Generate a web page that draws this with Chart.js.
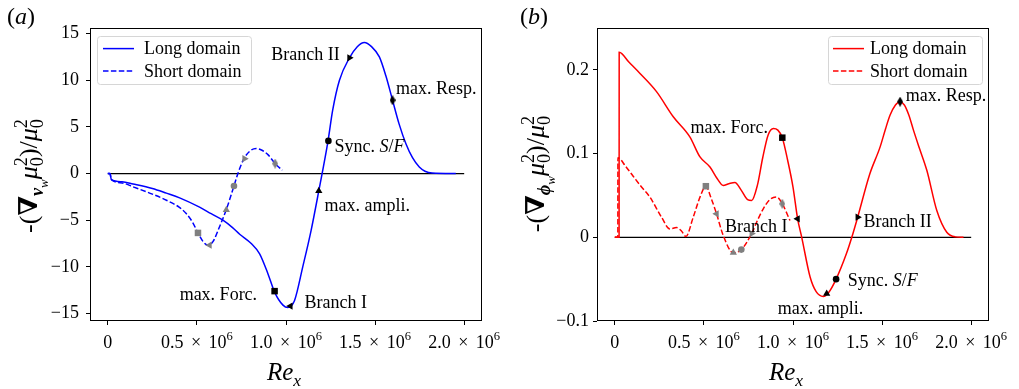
<!DOCTYPE html>
<html>
<head>
<meta charset="utf-8">
<script src="https://cdn.jsdelivr.net/npm/chart.js@4.4.1/dist/chart.umd.min.js"></script>
<style>
  body { margin: 0; background: #fff; }
  #wrap { position: relative; width: 1019px; height: 389px; overflow: hidden; }
  canvas { position: absolute; top: 0; }
  #chartA { left: 0; }
  #chartB { left: 500px; }
</style>
</head>
<body>
<div id="wrap">
  <canvas id="chartA" width="510" height="389"></canvas>
  <canvas id="chartB" width="519" height="389"></canvas>
</div>
<script>
// Re_x is given in millions (x 10^6) everywhere below

// (a) velocity-gradient sensitivity
const reLongA = [0, 0.012, 0.02, 0.08, 0.142, 0.25, 0.329, 0.403, 0.515, 0.58, 0.646, 0.70, 0.74, 0.805, 0.852, 0.898, 0.936, 0.983, 1.01, 1.048, 1.094, 1.141, 1.184, 1.235, 1.262, 1.30, 1.356, 1.40, 1.44, 1.48, 1.524, 1.56, 1.598, 1.635, 1.673, 1.71, 1.748, 1.78, 1.82, 1.953];
const gradLongA = [0, 0, -0.65, -0.88, -1.12, -1.6, -2.1, -2.6, -3.6, -4.3, -5.0, -5.8, -6.5, -7.5, -8.6, -10.7, -12.7, -14.1, -14.36, -13.6, -10.0, -6.08, -1.86, 3.4, 6.8, 10.0, 12.4, 13.6, 14.05, 13.6, 12.5, 10.5, 7.86, 5.3, 3.2, 1.7, 0.7, 0.25, 0.05, 0];
const reShortA = [0, 0.012, 0.02, 0.08, 0.142, 0.25, 0.329, 0.40, 0.44, 0.475, 0.506, 0.535, 0.562, 0.59, 0.627, 0.665, 0.708, 0.73, 0.764, 0.80, 0.833, 0.865, 0.90, 0.939, 0.979];
const gradShortA = [0, 0, -0.65, -1.0, -1.43, -2.2, -2.86, -3.6, -4.29, -5.2, -6.36, -7.3, -7.68, -7.3, -5.7, -3.86, -1.33, 0, 1.6, 2.45, 2.68, 2.5, 2.0, 1.07, 0.36];

// (b) phase-gradient sensitivity
const reLongB = [0, 0.024, 0.0245, 0.08, 0.14, 0.234, 0.328, 0.421, 0.478, 0.534, 0.575, 0.608, 0.64, 0.674, 0.71, 0.745, 0.768, 0.80, 0.83, 0.86, 0.89, 0.915, 0.94, 0.97, 1.0, 1.026, 1.049, 1.096, 1.13, 1.17, 1.20, 1.242, 1.30, 1.33, 1.363, 1.43, 1.489, 1.52, 1.545, 1.575, 1.601, 1.625, 1.65, 1.676, 1.71, 1.751, 1.807, 1.863, 1.91, 1.957];
const gradLongB = [0, 0, 0.221, 0.209, 0.196, 0.174, 0.144, 0.120, 0.096, 0.084, 0.070, 0.062, 0.064, 0.0655, 0.056, 0.045, 0.044, 0.062, 0.095, 0.122, 0.130, 0.128, 0.119, 0.092, 0.060, 0.022, 0, -0.0475, -0.065, -0.0707, -0.066, -0.05, -0.0195, 0, 0.024, 0.075, 0.108, 0.130, 0.146, 0.158, 0.162, 0.158, 0.146, 0.128, 0.106, 0.080, 0.032, 0.006, 0.0005, 0];
const reShortB = [0, 0.017, 0.0175, 0.06, 0.103, 0.15, 0.197, 0.262, 0.309, 0.346, 0.374, 0.399, 0.44, 0.478, 0.511, 0.54, 0.571, 0.608, 0.665, 0.71, 0.768, 0.80, 0.833, 0.87, 0.908, 0.94, 0.983];
const gradShortB = [0, 0, 0.095, 0.085, 0.073, 0.060, 0.048, 0.024, 0.010, 0.0116, 0.0076, 0.001, 0.024, 0.048, 0.061, 0.047, 0.028, 0.0024, -0.0185, -0.0147, 0.0044, 0.020, 0.034, 0.045, 0.048, 0.040, 0.020];

// special points: max. Forc., Branch I, max. ampli., Sync. S/F, Branch II, max. Resp.
const markReLongA = [0.936, 1.025, 1.184, 1.238, 1.356, 1.598];
const markValLongA = [-12.6, -14.2, -1.86, 3.5, 12.4, 7.86];
const markReShortA = [0.506, 0.571, 0.665, 0.708, 0.767, 0.939];
const markValShortA = [-6.36, -7.68, -3.9, -1.33, 1.6, 1.07];
const markReLongB = [0.94, 1.026, 1.189, 1.242, 1.363, 1.601];
const markValLongB = [0.119, 0.022, -0.0674, -0.05, 0.024, 0.162];
const markReShortB = [0.511, 0.571, 0.665, 0.71, 0.768, 0.94];
const markValShortB = [0.061, 0.028, -0.0185, -0.0147, 0.0044, 0.040];

const xTickVals = [0, 0.5, 1.0, 1.5, 2.0];
const xTickMant = ['0', '0.5', '1.0', '1.5', '2.0'];
const yTicksA = [-15, -10, -5, 0, 5, 10, 15];
const yTickLabelsA = ['−15', '−10', '−5', '0', '5', '10', '15'];
const yTicksB = [-0.1, 0, 0.1, 0.2];
const yTickLabelsB = ['−0.1', '0', '0.1', '0.2'];
const seriesNames = ['Long domain', 'Short domain'];

const FONT = '"Liberation Serif", "DejaVu Serif", serif';

function thinDiamond(color) {
  const c = document.createElement('canvas');
  c.width = 6; c.height = 10;
  const g = c.getContext('2d');
  g.fillStyle = color;
  g.beginPath();
  g.moveTo(3, 0); g.lineTo(6, 5); g.lineTo(3, 10); g.lineTo(0, 5);
  g.closePath(); g.fill();
  return c;
}

function pts(xs, ys) {
  return xs.map((x, i) => ({ x: x, y: ys[i] }));
}

// marker shapes in the order of the special points
function markerSet(xs, ys, color) {
  return {
    data: pts(xs, ys),
    showLine: false,
    pointStyle: ['rect', 'triangle', 'triangle', 'circle', 'triangle', thinDiamond(color)],
    pointRotation: [0, -90, 0, 0, 90, 0],
    pointRadius: [4.6, 4.2, 4.2, 3.3, 4.2, 5],
    backgroundColor: color,
    borderColor: color,
    pointBorderWidth: 0,
    order: 0
  };
}

// text made of runs: {t, f (style), s (scale), dy (shift in em), stack}
function layoutRuns(ctx, runs, size) {
  let x = 0, lastStart = 0, lastEnd = 0;
  const out = [];
  for (const r of runs) {
    const fs = size * (r.s || 1);
    const font = (r.f || '') + ' ' + fs + 'px ' + FONT;
    ctx.font = font;
    const w = ctx.measureText(r.t).width;
    const start = r.stack ? lastStart : x;
    out.push({ t: r.t, font: font, x: start, dy: (r.dy || 0) * size });
    if (r.stack) {
      x = Math.max(lastEnd, start + w);
    } else {
      lastStart = start; lastEnd = start + w; x = lastEnd;
    }
  }
  return { items: out, width: x };
}

function drawRuns(ctx, runs, size, x, y, align, baseline) {
  const lay = layoutRuns(ctx, runs, size);
  let x0 = x;
  if (align === 'center') x0 = x - lay.width / 2;
  ctx.textAlign = 'left';
  ctx.textBaseline = baseline || 'alphabetic';
  ctx.fillStyle = '#000';
  for (const it of lay.items) {
    ctx.font = it.font;
    ctx.fillText(it.t, x0 + it.x, y + it.dy);
  }
}

function yLabelRuns(sym) {
  return [
    { t: '-(' },
    { t: '∇', f: 'bold' },
    { t: sym, f: 'italic bold', s: 0.7, dy: 0.22 },
    { t: 'w', f: 'italic', s: 0.5, dy: 0.42 },
    { t: 'μ', f: 'italic' },
    { t: '2', s: 0.7, dy: -0.4 },
    { t: '0', s: 0.7, dy: 0.22, stack: true },
    { t: ')/' },
    { t: 'μ', f: 'italic' },
    { t: '2', s: 0.7, dy: -0.4 },
    { t: '0', s: 0.7, dy: 0.22, stack: true }
  ];
}

function xTickRuns(i) {
  if (xTickVals[i] === 0) return [{ t: xTickMant[i] }];
  return [{ t: xTickMant[i] + ' \u2006×\u2006 10' }, { t: '6', s: 0.7, dy: -0.42 }];
}

const xLabelRuns = [{ t: 'Re', f: 'italic' }, { t: 'x', f: 'italic', s: 0.7, dy: 0.22 }];
const syncRuns = [{ t: 'Sync. ' }, { t: 'S', f: 'italic' }, { t: '/' }, { t: 'F', f: 'italic' }];

function deco(cfg) {
  return {
    id: 'deco' + cfg.tag,
    afterDraw(chart) {
      const ctx = chart.ctx, a = chart.chartArea;
      const sx = chart.scales.x, sy = chart.scales.y;
      ctx.save();
      // frame
      ctx.strokeStyle = '#000';
      ctx.lineWidth = 1;
      ctx.strokeRect(Math.round(a.left) + 0.5, Math.round(a.top) + 0.5,
        Math.round(a.right - a.left) - 1, Math.round(a.bottom - a.top) - 1);

      // x tick labels with a real superscript exponent
      xTickVals.forEach((v, i) => {
        drawRuns(ctx, xTickRuns(i), 18, sx.getPixelForValue(v), 348, 'center');
      });

      // legend
      const L = cfg.legend;
      ctx.beginPath();
      ctx.roundRect(L.x + 0.5, L.y + 0.5, L.w, L.h, 3);
      ctx.fillStyle = 'rgba(255,255,255,0.8)';
      ctx.fill();
      ctx.strokeStyle = '#d6d6d6';
      ctx.stroke();
      [0, 1].forEach(i => {
        const ly = L.y + 12.6 + i * 22.4;
        ctx.beginPath();
        ctx.setLineDash(i ? [5.5, 2.4] : []);
        ctx.strokeStyle = cfg.color;
        ctx.lineWidth = 1.5;
        ctx.moveTo(L.x + L.l0, ly);
        ctx.lineTo(L.x + L.l1, ly);
        ctx.stroke();
        ctx.setLineDash([]);
        drawRuns(ctx, [{ t: seriesNames[i] }], 18, L.x + L.tx, ly + 1, 'left', 'middle');
      });

      // annotations
      cfg.notes.forEach(n => {
        const runs = n.text === 'sync' ? syncRuns : [{ t: n.text }];
        drawRuns(ctx, runs, 18, sx.getPixelForValue(n.x), sy.getPixelForValue(n.y), 'left', 'middle');
      });

      // axis labels
      drawRuns(ctx, xLabelRuns, 25, cfg.xLab[0], cfg.xLab[1], 'center');
      ctx.save();
      ctx.translate(cfg.yLab[0], cfg.yLab[1]);
      ctx.rotate(-Math.PI / 2);
      drawRuns(ctx, yLabelRuns(cfg.sym), 26, 0, 0, 'center');
      ctx.restore();

      // panel tag
      drawRuns(ctx, [{ t: '(' }, { t: cfg.tag, f: 'italic' }, { t: ')' }], 24, cfg.tagPos[0], cfg.tagPos[1], 'left');
      ctx.restore();
    }
  };
}

function makeChart(id, cfg) {
  return new Chart(document.getElementById(id), {
    type: 'line',
    data: {
      datasets: [
        markerSet(cfg.mLong[0], cfg.mLong[1], '#000'),
        markerSet(cfg.mShort[0], cfg.mShort[1], '#808080'),
        {
          label: seriesNames[0],
          data: pts(cfg.long[0], cfg.long[1]),
          borderColor: cfg.color, borderWidth: 1.5, pointRadius: 0,
          cubicInterpolationMode: 'monotone', order: 1
        },
        {
          label: seriesNames[1],
          data: pts(cfg.short[0], cfg.short[1]),
          borderColor: cfg.color, borderWidth: 1.5, borderDash: [5.5, 2.4], pointRadius: 0,
          cubicInterpolationMode: 'monotone', order: 1
        },
        {
          data: [{ x: 0, y: 0 }, { x: 2.0, y: 0 }],
          borderColor: '#000', borderWidth: 1.2, pointRadius: 0, order: 2
        }
      ]
    },
    options: {
      responsive: false,
      animation: false,
      events: [],
      layout: { padding: { left: 0, top: 28, right: cfg.padR, bottom: 0 } },
      plugins: { legend: { display: false }, tooltip: { enabled: false } },
      scales: {
        x: {
          type: 'linear', min: -0.1, max: 2.1,
          afterBuildTicks: s => { s.ticks = xTickVals.map(v => ({ value: v })); },
          afterFit: s => { s.height = 68; s.paddingLeft = 0; s.paddingRight = 0; },
          ticks: { display: false, autoSkip: false, maxRotation: 0 },
          grid: { drawOnChartArea: false, tickLength: 4, color: '#000' },
          border: { display: false }
        },
        y: {
          type: 'linear', min: cfg.yMin, max: cfg.yMax,
          afterBuildTicks: s => { s.ticks = cfg.yTicks.map(v => ({ value: v })); },
          afterFit: s => { s.width = cfg.yw; s.paddingTop = 0; s.paddingBottom = 0; },
          ticks: {
            padding: cfg.yPad, color: '#000',
            font: { family: FONT, size: 18 },
            callback: (v, i) => cfg.yLabels[i]
          },
          grid: { drawOnChartArea: false, tickLength: 4, color: '#000' },
          border: { display: false }
        }
      }
    },
    plugins: [deco(cfg)]
  });
}

makeChart('chartA', {
  tag: 'a', color: '#0000ff', sym: 'v',
  long: [reLongA, gradLongA], short: [reShortA, gradShortA],
  mLong: [markReLongA, markValLongA], mShort: [markReShortA, markValShortA],
  yMin: -15.8, yMax: 15.6, yTicks: yTicksA, yLabels: yTickLabelsA,
  yw: 90, yPad: 7, padR: 28,
  legend: { x: 97, y: 36, w: 154, h: 48, l0: 6, l1: 37, tx: 47 },
  notes: [
    { text: 'max. Forc.', x: 0.403, y: -13.0 },
    { text: 'Branch I', x: 1.104, y: -13.9 },
    { text: 'max. ampli.', x: 1.216, y: -3.5 },
    { text: 'sync', x: 1.272, y: 2.8 },
    { text: 'max. Resp.', x: 1.617, y: 9.0 },
    { text: 'Branch II', x: 0.917, y: 12.7 }
  ],
  xLab: [284, 380], yLab: [37, 176], tagPos: [7, 24]
});

makeChart('chartB', {
  tag: 'b', color: '#ff0000', sym: 'ϕ',
  long: [reLongB, gradLongB], short: [reShortB, gradShortB],
  mLong: [markReLongB, markValLongB], mShort: [markReShortB, markValShortB],
  yMin: -0.1, yMax: 0.25, yTicks: yTicksB, yLabels: yTickLabelsB,
  yw: 97, yPad: 4, padR: 30,
  legend: { x: 328, y: 36, w: 154, h: 48, l0: 5, l1: 36, tx: 42 },
  notes: [
    { text: 'max. Forc.', x: 0.425, y: 0.130 },
    { text: 'Branch I', x: 0.618, y: 0.0123 },
    { text: 'max. ampli.', x: 0.914, y: -0.0854 },
    { text: 'sync', x: 1.307, y: -0.0523 },
    { text: 'Branch II', x: 1.395, y: 0.0183 },
    { text: 'max. Resp.', x: 1.633, y: 0.169 }
  ],
  xLab: [286, 380], yLab: [44, 174], tagPos: [20, 24]
});
</script>
</body>
</html>
